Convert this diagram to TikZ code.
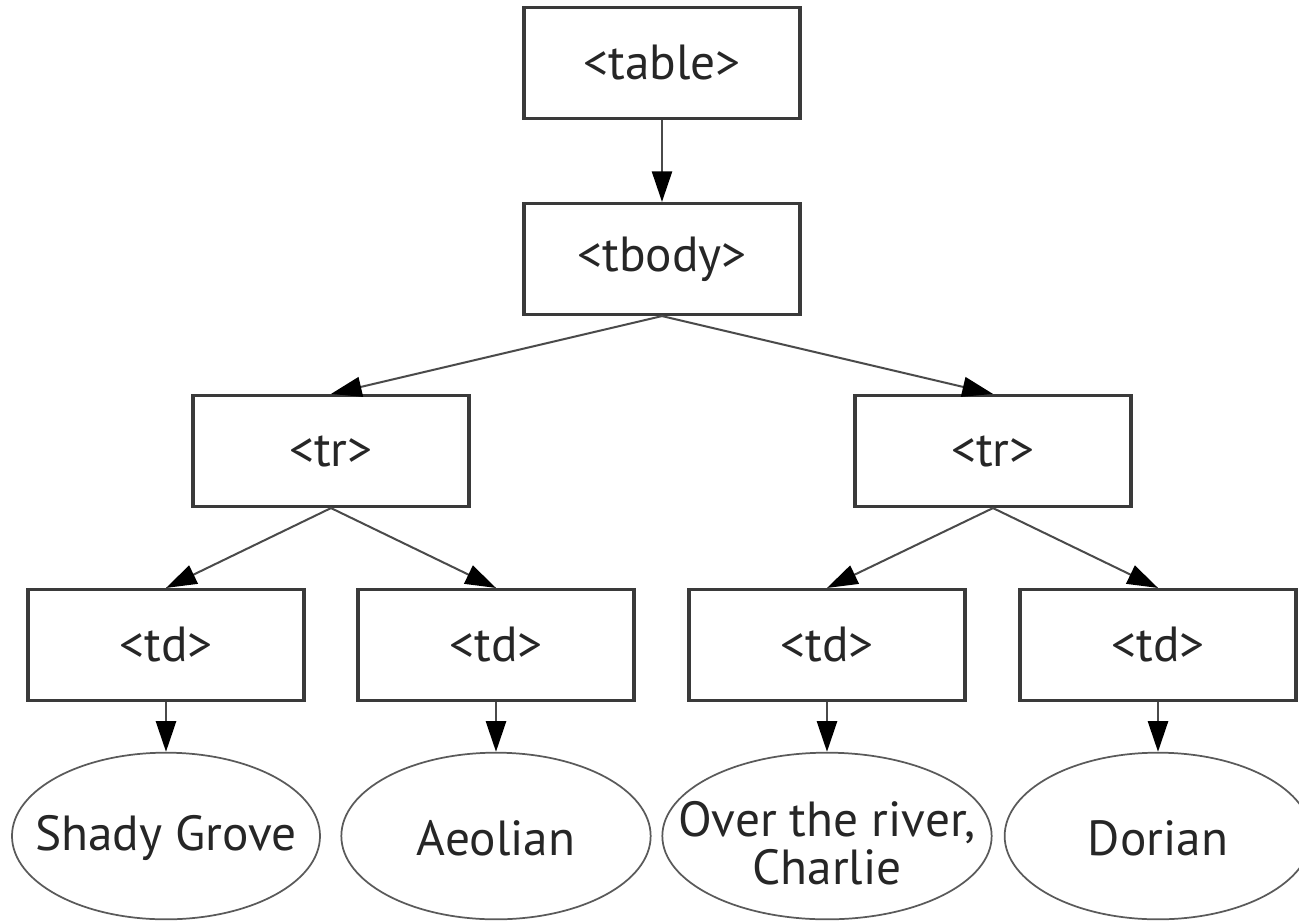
\documentclass[tikz,border=0pt]{standalone}
\usepackage{fontspec}
\setmainfont{PT Sans}
\usetikzlibrary{shapes.geometric,arrows.meta}
\definecolor{boxline}{HTML}{3A3A3A}
\definecolor{edgeline}{HTML}{4A4A4A}
\definecolor{ellline}{HTML}{5A5A5A}
\tikzset{
  tagbox/.style={draw=boxline, line width=2.6pt, rectangle, minimum width=207pt, minimum height=83pt, inner sep=0pt,
    font=\fontsize{37}{37}\selectfont, text=black!85},
  leaf/.style={draw=ellline, line width=1.3pt, ellipse, minimum height=125pt, inner sep=0pt},
  leaftext/.style={align=center, inner sep=0pt, font=\fontsize{37}{36}\selectfont, text=black!85},
  arr/.style={draw=edgeline, line width=1.5pt, -{Triangle[width=15pt,length=23pt,black]}},
  varr/.style={arr, line width=2pt},
}
\begin{document}
\begin{tikzpicture}[x=0.75pt,y=-0.75pt]
\useasboundingbox[fill=white] (0,0) rectangle (1299,921);
\node[tagbox] (table) at (662,63) {<table>};
\node[tagbox] (tbody) at (662,259) {<tbody>};
\node[tagbox] (tr1) at (331,451) {<tr>};
\node[tagbox] (tr2) at (993,451) {<tr>};
\node[tagbox] (td1) at (166,645) {<td>};
\node[tagbox] (td2) at (496,645) {<td>};
\node[tagbox] (td3) at (827,645) {<td>};
\node[tagbox] (td4) at (1158,645) {<td>};
\node[leaf, minimum width=231pt] (e1) at (166,836) {};
\node[leaf, minimum width=232pt] (e2) at (496,836) {};
\node[leaf, minimum width=247pt] (e3) at (827,836) {};
\node[leaf, minimum width=230pt] (e4) at (1158,836) {};
\node[leaftext] (t1) at (166,838) {Shady Grove};
\node[leaftext] (t2) at (496,838) {Aeolian};
\node[leaftext] (t3) at (827,843) {Over the river,\\Charlie};
\node[leaftext] (t4) at (1158,838) {Dorian};
\draw[varr] (table.south) -- (tbody.north);
\draw[arr] (tbody.south) -- (tr1.north);
\draw[arr] (tbody.south) -- (tr2.north);
\draw[arr] (tr1.south) -- (td1.north);
\draw[arr] (tr1.south) -- (td2.north);
\draw[arr] (tr2.south) -- (td3.north);
\draw[arr] (tr2.south) -- (td4.north);
\draw[varr] (td1.south) -- (e1.north);
\draw[varr] (td2.south) -- (e2.north);
\draw[varr] (td3.south) -- (e3.north);
\draw[varr] (td4.south) -- (e4.north);
\end{tikzpicture}
\end{document}
